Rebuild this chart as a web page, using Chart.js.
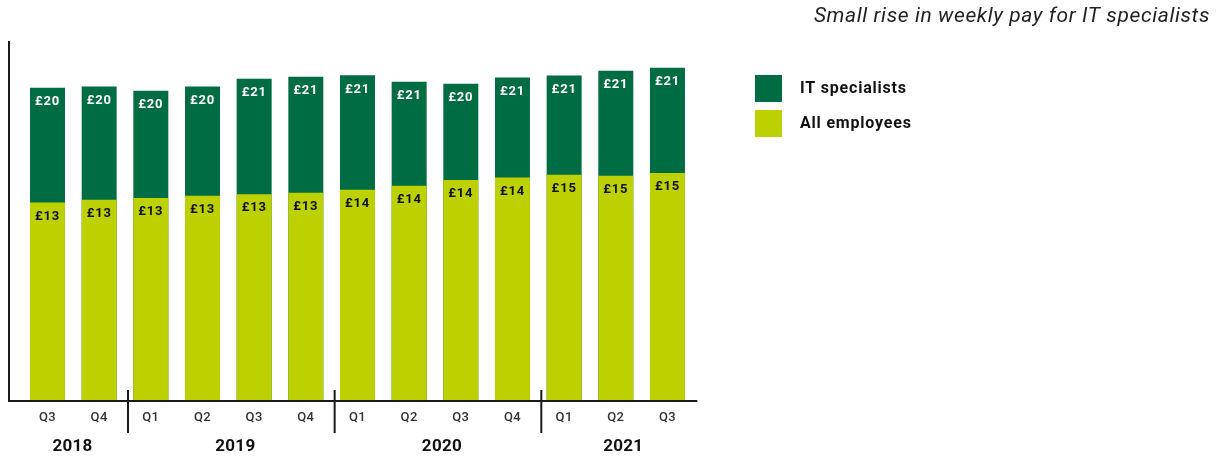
<!DOCTYPE html>
<html>
<head>
<meta charset="utf-8">
<title>Small rise in weekly pay for IT specialists</title>
<script src="https://cdn.jsdelivr.net/npm/chart.js@4.4.1/dist/chart.umd.min.js"></script>
<style>
  html, body { margin: 0; padding: 0; background: #ffffff; }
  #wrap { position: relative; width: 1229px; height: 457px; }
  canvas { display: block; }
</style>
</head>
<body>
<div id="wrap"><canvas id="chart" width="1229" height="457"></canvas></div>
<script>
// Quarter labels along the x axis and the year each quarter belongs to
const quarters = ['Q3', 'Q4', 'Q1', 'Q2', 'Q3', 'Q4', 'Q1', 'Q2', 'Q3', 'Q4', 'Q1', 'Q2', 'Q3'];
const quarterYears = ['2018', '2018', '2019', '2019', '2019', '2019', '2020', '2020', '2020', '2020', '2021', '2021', '2021'];

// Median pay (£) per quarter
const itSpecialists = [20.19, 20.26, 20.0, 20.26, 20.77, 20.9, 20.99, 20.58, 20.45, 20.84, 20.97, 21.29, 21.48];
const allEmployees = [12.8, 12.97, 13.08, 13.23, 13.33, 13.42, 13.61, 13.87, 14.24, 14.41, 14.58, 14.52, 14.69];

const seriesNames = ['IT specialists', 'All employees'];
const titleText = 'Small rise in weekly pay for IT specialists';

const DARK = '#006c44';
const LIGHT = '#bdd000';
const FONT = 'Roboto, "Open Sans", sans-serif';

const fmt = v => '£' + Math.round(v);

// Value labels inside the top of each bar
const valueLabels = {
  id: 'valueLabels',
  afterDatasetsDraw(chart) {
    const ctx = chart.ctx;
    ctx.save();
    ctx.font = 'bold 13px ' + FONT;
    ctx.letterSpacing = '0.8px';
    ctx.textAlign = 'center';
    ctx.textBaseline = 'middle';
    chart.data.datasets.forEach((ds, di) => {
      const meta = chart.getDatasetMeta(di);
      meta.data.forEach((bar, i) => {
        ctx.fillStyle = ds.labelColor;
        ctx.fillText(fmt(ds.data[i]), bar.x, bar.y + 14);
      });
    });
    ctx.restore();
  }
};

// Axis lines, quarter and year labels, year separators, legend and title
const decorations = {
  id: 'decorations',
  afterDraw(chart) {
    const ctx = chart.ctx;
    const area = chart.chartArea;
    const xs = chart.scales.x;
    const step = xs.getPixelForValue(1) - xs.getPixelForValue(0);
    const axisLeft = 9;
    const axisRight = area.right + 4;
    const base = area.bottom;

    ctx.save();
    ctx.strokeStyle = '#1a1a1a';
    ctx.lineWidth = 2;
    ctx.beginPath();
    ctx.moveTo(axisLeft, area.top);
    ctx.lineTo(axisLeft, base + 1);
    ctx.moveTo(axisLeft, base);
    ctx.lineTo(axisRight, base);
    ctx.stroke();

    // quarter tick labels
    ctx.fillStyle = '#333333';
    ctx.font = '500 13px ' + FONT;
    ctx.letterSpacing = '0.4px';
    ctx.textAlign = 'center';
    ctx.textBaseline = 'middle';
    quarters.forEach((q, i) => ctx.fillText(q, xs.getPixelForValue(i), base + 17));

    // year separators and year labels
    const bounds = [axisLeft];
    const groups = [];
    quarterYears.forEach((y, i) => {
      if (i > 0 && y !== quarterYears[i - 1]) {
        bounds.push(xs.getPixelForValue(i) - step / 2 + 3);
      }
      if (!groups.length || groups[groups.length - 1] !== y) groups.push(y);
    });
    bounds.push(axisRight);

    ctx.beginPath();
    for (let b = 1; b < bounds.length - 1; b++) {
      ctx.moveTo(bounds[b], base - 11);
      ctx.lineTo(bounds[b], base + 32);
    }
    ctx.stroke();

    ctx.fillStyle = '#111111';
    ctx.font = 'bold 17px ' + FONT;
    ctx.letterSpacing = '0.3px';
    groups.forEach((y, g) => {
      ctx.fillText(y, (bounds[g] + bounds[g + 1]) / 2 + 4, base + 46);
    });

    // legend
    const legendColors = [DARK, LIGHT];
    ctx.textAlign = 'left';
    ctx.font = 'bold 16px ' + FONT;
    ctx.letterSpacing = '0.8px';
    seriesNames.forEach((name, k) => {
      const top = 75 + k * 35;
      ctx.fillStyle = legendColors[k];
      ctx.fillRect(755, top, 27, 27);
      ctx.fillStyle = '#111111';
      ctx.fillText(name, 800, top + 14);
    });

    // title
    ctx.textAlign = 'right';
    ctx.fillStyle = '#222222';
    ctx.font = 'italic 21px ' + FONT;
    ctx.letterSpacing = '0.6px';
    ctx.fillText(titleText, 1210, 17);
    ctx.restore();
  }
};

new Chart(document.getElementById('chart'), {
  type: 'bar',
  data: {
    labels: quarters,
    datasets: [
      // first dataset is painted last, so the all-employees bars sit in front
      { label: seriesNames[1], data: allEmployees, backgroundColor: LIGHT, labelColor: '#111111' },
      { label: seriesNames[0], data: itSpecialists, backgroundColor: DARK, labelColor: '#ffffff' }
    ]
  },
  options: {
    responsive: false,
    animation: false,
    devicePixelRatio: 1,
    layout: { padding: { left: 21.67, right: 535.7, top: 41, bottom: 56 } },
    datasets: { bar: { grouped: false, categoryPercentage: 1, barPercentage: 0.677, borderWidth: 0 } },
    scales: {
      x: { display: false, offset: true },
      y: { display: false, min: 0, max: 23.2 }
    },
    plugins: {
      legend: { display: false },
      tooltip: { enabled: false },
      title: { display: false }
    }
  },
  plugins: [valueLabels, decorations]
});
</script>
</body>
</html>
